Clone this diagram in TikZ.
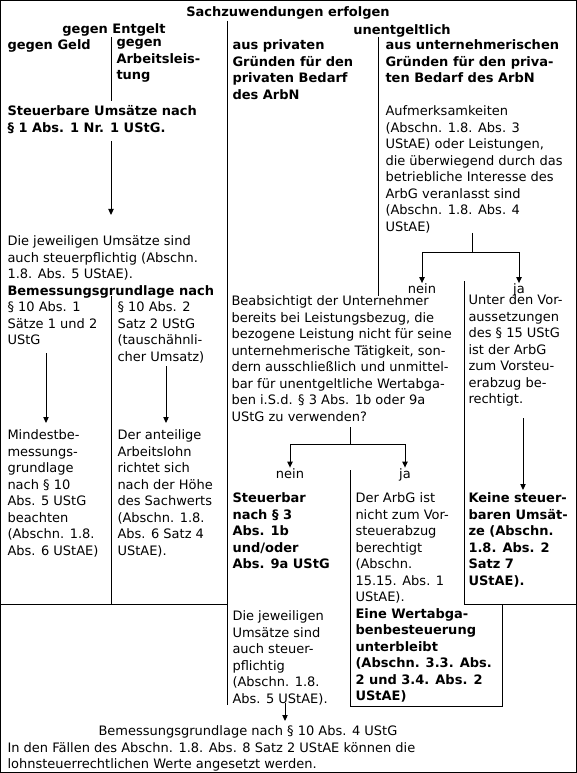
\documentclass[tikz,border=0pt]{standalone}
\usepackage{fontspec}
\setmainfont{DejaVu Sans}
\usetikzlibrary{arrows.meta}

\tikzset{
  txt/.style={anchor=north west,inner sep=0pt,align=left,yshift=4.4pt,
    font=\fontsize{9.75pt}{12.4pt}\selectfont,execute at begin node=\rule{0pt}{7.4pt}},
  txtb/.style={txt,font=\fontsize{9.75pt}{12.4pt}\selectfont\bfseries},
  lbl/.style={anchor=base,inner sep=0pt,text depth=0pt,font=\fontsize{9.75pt}{12.4pt}\selectfont},
  pfeil/.style={-{Triangle[length=4.5pt,width=4pt]}}
}

\begin{document}
\begin{tikzpicture}[x=0.75pt,y=-0.75pt,line width=0.75pt]
\useasboundingbox (0,0) rectangle (577,773);
\draw (0.5,0.5) rectangle (576.5,772.5);
% Kopf
\node[txtb,anchor=north] (titel) at (288,12) {Sachzuwendungen erfolgen};
\node[txtb,anchor=north] (entgelt) at (114,29) {gegen Entgelt};
\node[txtb,anchor=north] (unentg) at (402,30) {unentgeltlich};
\node[txtb] (geld) at (7,45) {gegen Geld};
\node[txtb] (arbeit) at (116,45) {gegen\\Arbeitsleis-\\tung};
\node[txtb] (privat) at (232,45) {aus privaten\\Gründen für den\\privaten Bedarf\\des ArbN};
\node[txtb] (untern) at (385,45) {aus unternehmerischen\\Gründen für den priva-\\ten Bedarf des ArbN};
% linke Spalten
\node[txtb] (steuerbar) at (7,111) {Steuerbare Umsätze nach\\§ 1 Abs. 1 Nr. 1 UStG.};
\node[txt] (pflicht) at (7,241) {Die jeweiligen Umsätze sind\\auch steuerpflichtig (Abschn.\\1.8. Abs. 5 UStAE).\\\textbf{Bemessungsgrundlage nach}};
\node[txt] (abseins) at (7,307) {§ 10 Abs. 1\\Sätze 1 und 2\\UStG};
\node[txt] (abszwei) at (117,307) {§ 10 Abs. 2\\Satz 2 UStG\\(tauschähnli-\\cher Umsatz)};
\node[txt] (mindest) at (7,435) {Mindestbe-\\messungs-\\grundlage\\nach § 10\\Abs. 5 UStG\\beachten\\(Abschn. 1.8.\\Abs. 6 UStAE)};
\node[txt] (lohn) at (117,435) {Der anteilige\\Arbeitslohn\\richtet sich\\nach der Höhe\\des Sachwerts\\(Abschn. 1.8.\\Abs. 6 Satz 4\\UStAE).};
% rechte Spalten
\node[txt] (aufmerk) at (385,111) {Aufmerksamkeiten\\(Abschn. 1.8. Abs. 3\\UStAE) oder Leistungen,\\die überwiegend durch das\\betriebliche Interesse des\\ArbG veranlasst sind\\(Abschn. 1.8. Abs. 4\\UStAE)};
\node[lbl] (nein1) at (422,293.5) {nein};
\node[lbl] (ja1) at (519,293.5) {ja};
\node[txt] (frage) at (231,301) {Beabsichtigt der Unternehmer\\bereits bei Leistungsbezug, die\\bezogene Leistung nicht für seine\\unternehmerische Tätigkeit, son-\\dern ausschließlich und unmittel-\\bar für unentgeltliche Wertabga-\\ben i.S.d. § 3 Abs. 1b oder 9a\\UStG zu verwenden?};
\node[txt] (vorst) at (468,300) {Unter den Vor-\\aussetzungen\\des § 15 UStG\\ist der ArbG\\zum Vorsteu-\\erabzug be-\\rechtigt.};
\node[lbl] (nein2) at (290,478) {nein};
\node[lbl] (ja2) at (405,478) {ja};
\node[txtb] (steuerb) at (232,498) {Steuerbar\\nach § 3\\Abs. 1b\\und/oder\\Abs. 9a UStG};
\node[txt] (kein) at (355,498) {Der ArbG ist\\nicht zum Vor-\\steuerabzug\\berechtigt\\(Abschn.\\15.15. Abs. 1\\UStAE).\\\textbf{Eine Wertabga-}\\\textbf{benbesteuerung}\\\textbf{unterbleibt}\\\textbf{(Abschn. 3.3. Abs.}\\\textbf{2 und 3.4. Abs. 2}\\\textbf{UStAE)}};
\node[txtb] (keine) at (468,498) {Keine steuer-\\baren Umsät-\\ze (Abschn.\\1.8. Abs. 2\\Satz 7\\UStAE).};
\node[txt] (jew) at (232,616) {Die jeweiligen\\Umsätze sind\\auch steuer-\\pflichtig\\(Abschn. 1.8.\\Abs. 5 UStAE).};
% Fuss
\node[txt] (bmg) at (98,731) {Bemessungsgrundlage nach § 10 Abs. 4 UStG};
\node[txt] (faelle) at (7,747.5) {In den Fällen des Abschn. 1.8. Abs. 8 Satz 2 UStAE können die\\lohnsteuerrechtlichen Werte angesetzt werden.};
% Linien
\draw (227,21) -- (227,705);
\draw (111,37) -- (111,101);
\draw (111,296) -- (111,604);
\draw (0,604) -- (227,604);
\draw (378,37) -- (378,296);
\draw (464,281) -- (464,604) -- (576,604);
\draw (350,470) -- (350,706) -- (502,706) -- (502,604);
% Verzweigungen
\draw (472,233) -- (472,253);
\draw[pfeil] (472,253) -| (nein1.north);
\draw[pfeil] (472,253) -| (ja1.north);
\draw (350,427) -- (350,444);
\draw[pfeil] (350,444) -| (nein2.north);
\draw[pfeil] (350,444) -| (ja2.north);
% Pfeile
\foreach \n/\x/\a/\b in {p1/111/141/215,p2/46/353/423,p3/166/366/423,p4/523/418/490,p5/285/703/721} {
  \coordinate (\n a) at (\x,\a);
  \coordinate (\n b) at (\x,\b);
  \draw[pfeil] (\n a) -- (\n b);
}
\end{tikzpicture}
\end{document}
